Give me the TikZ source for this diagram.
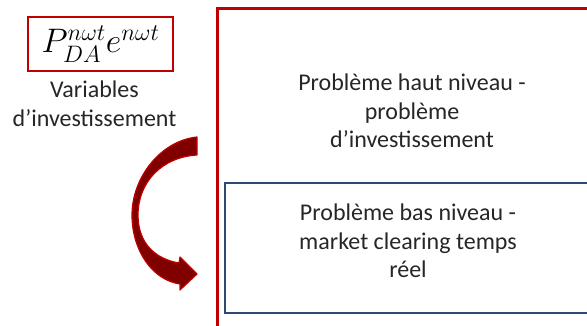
\documentclass[tikz,border=0pt]{standalone}
\usepackage{fix-cm}
\usepackage{fontspec}
\setmainfont{Carlito}
\usepackage{amssymb}

\definecolor{framered}{RGB}{192,0,0}
\definecolor{arrowred}{RGB}{128,0,0}
\definecolor{framenavy}{RGB}{47,72,110}

\begin{document}
\begin{tikzpicture}[x=1pt,y=1pt]
\tikzstyle{every node}+=[inner sep=0pt]
\tikzstyle{plain text}=[align=center, text=black!85, font=\fontsize{24}{28.5}\selectfont]
\useasboundingbox (0,0) rectangle (587,-326);
\clip (0,0) rectangle (587,-326);
% outer frame (high level) and inner frame (low level)
\draw [framered, line width=3] (217,-9) rectangle (640,-380);
\draw [framenavy, line width=2] (224.5,-183) rectangle (640,-313);
% investment variables
\node [draw=framered, line width=2.5, minimum width=145, minimum height=54] (vars) at (100.5,-44)
  {\fontsize{34}{38}\selectfont $P_{DA}^{n\omega t}e^{n\omega t}$};
\node [plain text] (varstext) at (94.5,-104) {Variables\\d’investissement};
% problem texts
\node [plain text] (haut) at (412,-111) {Problème haut niveau -\\problème\\d’investissement};
\node [plain text] (bas) at (408,-241) {Problème bas niveau -\\market clearing temps\\réel};
% curved block arrow
\draw [framered, line width=1.2, fill=arrowred, line join=round]
  (197,-137) .. controls (160,-141) and (132,-178) .. (132,-215)
  .. controls (132,-250) and (152,-280) .. (180,-284)
  -- (180,-290) -- (197,-274) -- (180,-257) -- (179,-263)
  .. controls (155,-259) and (138,-243) .. (138,-215)
  .. controls (138,-182) and (162,-157) .. (197,-155) -- cycle;
\end{tikzpicture}
\end{document}
